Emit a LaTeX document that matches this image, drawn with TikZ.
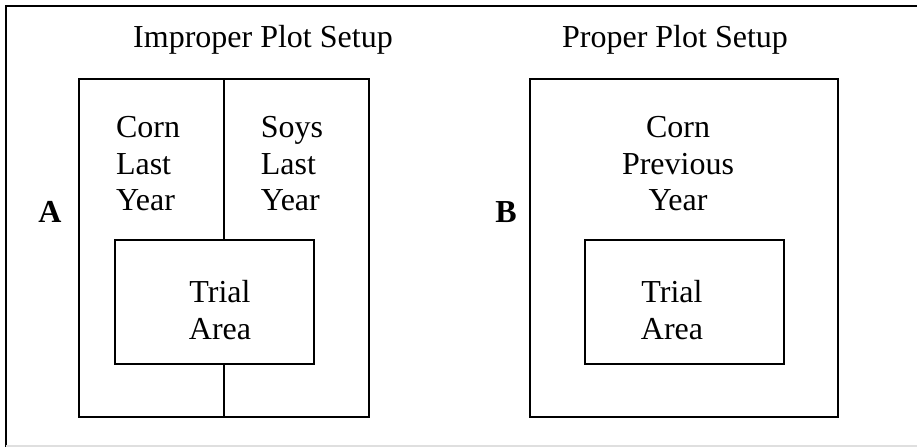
\documentclass[tikz,border=0pt]{standalone}
\usepackage{fontspec}
\setmainfont{Liberation Serif}

\tikzset{
  plotline/.style={line width=1.3pt, black},
  plotlabel/.style={inner sep=0pt, font=\fontsize{24}{27.4}\selectfont},
}

\begin{document}
\begin{tikzpicture}[x=0.75pt, y=-0.75pt]
  \useasboundingbox (0,0) rectangle (917,447);

  % Frame round the figure
  \draw[plotline] (917,6) -- (6,6) -- (6,447);
  \draw[gray!25, line width=0.8pt] (6,446) -- (917,446);

  % Panel A: field split by last year's crop
  \node[plotlabel, anchor=base] (titleA) at (263,47) {Improper Plot Setup};
  \node[plotlabel, anchor=base, font=\fontsize{24}{27.4}\selectfont\bfseries] (labA) at (50,222) {A};
  \draw[plotline] (79,79) rectangle (369,417);
  \draw[plotline] (115,240) rectangle (314,364);
  \coordinate (splitTop) at (224,79);
  \coordinate (splitMidTop) at (224,240);
  \coordinate (splitMidBot) at (224,364);
  \coordinate (splitBot) at (224,417);
  \draw[plotline] (splitTop) -- (splitMidTop);
  \draw[plotline] (splitMidBot) -- (splitBot);
  \node[plotlabel, align=left] (cornA) at (148,164) {Corn\\Last\\Year};
  \node[plotlabel, align=left] (soysA) at (292,164) {Soys\\Last\\Year};
  \node[plotlabel, align=center] (trialA) at (220,310) {Trial\\Area};

  % Panel B: one crop history under the whole trial
  \node[plotlabel, anchor=base] (titleB) at (675,47) {Proper Plot Setup};
  \node[plotlabel, anchor=base, font=\fontsize{24}{27.4}\selectfont\bfseries] (labB) at (506,222) {B};
  \draw[plotline] (530,79) rectangle (838,417);
  \draw[plotline] (585,240) rectangle (784,364);
  \node[plotlabel, align=center] (cornB) at (678,164) {Corn\\Previous\\Year};
  \node[plotlabel, align=center] (trialB) at (672,310) {Trial\\Area};
\end{tikzpicture}
\end{document}
